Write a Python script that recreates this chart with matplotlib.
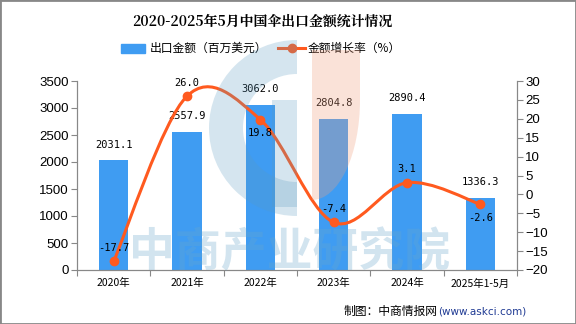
import numpy as np
import matplotlib
matplotlib.use('Agg')
import matplotlib.pyplot as plt
from matplotlib.path import Path
from matplotlib.patches import PathPatch, Wedge, Rectangle
from matplotlib.transforms import IdentityTransform, Affine2D

plt.rcParams['font.family'] = ['Noto Sans CJK SC', 'DejaVu Sans']

# ============================
# Data
# ============================
categories = ['2020年', '2021年', '2022年', '2023年', '2024年', '2025年1-5月']
export_value = [2031.1, 2557.9, 3062.0, 2804.8, 2890.4, 1336.3]   # 百万美元
growth_rate = [-17.7, 26.0, 19.8, -7.4, 3.1, -2.6]                # %
rate_label_above = [True, True, False, True, True, False]

bar_color = '#3f9cf2'
line_color = '#ff5a1f'
W, H = 576, 324


def fx(px):
    return px / W


def fy(py):
    return 1 - py / H


fig = plt.figure(figsize=(5.76, 3.24), dpi=100)
fig.patch.set_facecolor('white')
ax = fig.add_axes([fx(77), fy(270), fx(517) - fx(77), fy(81) - fy(270)])
ax2 = ax.twinx()

x = np.arange(len(categories))

# ============================
# Bars
# ============================
ax.bar(x, export_value, width=0.4, color=bar_color, zorder=2)
for xi, v in zip(x, export_value):
    ax.text(xi, v + 200, f'{v:.1f}', ha='center', va='bottom', fontsize=7.5,
            family='DejaVu Sans Mono', zorder=5)

ax.set_xlim(-0.5, len(categories) - 0.5)
ax.set_ylim(0, 3500)
ax.set_yticks(np.arange(0, 3501, 500))
ax.set_xticks(np.arange(-0.5, len(categories), 1.0))
ax.set_xticklabels([])
ax.set_xticks(x, minor=True)
ax.set_xticklabels(categories, minor=True, fontsize=7.5)
ax.tick_params(axis='x', which='minor', length=0, pad=6)
ax.tick_params(axis='x', which='major', length=4, color='#888888')
ax.tick_params(axis='y', length=4, color='#888888', labelsize=9.5, pad=2)
for lab in ax.get_yticklabels():
    lab.set_family('Liberation Sans')

# ============================
# Growth-rate line (smooth cardinal spline through the points)
# ============================
ax2.set_ylim(-20, 30)
ax2.set_yticks(np.arange(-20, 31, 5))
ax2.tick_params(axis='y', length=4, color='#888888', labelsize=9.5, pad=2)
for lab in ax2.get_yticklabels():
    lab.set_family('Liberation Sans')

pts = np.column_stack([x, growth_rate]).astype(float)
tension = 0.5
verts = [tuple(pts[0])]
codes = [Path.MOVETO]
for i in range(len(pts) - 1):
    p0 = pts[max(i - 1, 0)]
    p1 = pts[i]
    p2 = pts[i + 1]
    p3 = pts[min(i + 2, len(pts) - 1)]
    c1 = p1 + (p2 - p0) * tension / 3
    c2 = p2 - (p3 - p1) * tension / 3
    verts += [tuple(c1), tuple(c2), tuple(p2)]
    codes += [Path.CURVE4] * 3
ax2.add_patch(PathPatch(Path(verts, codes), fill=False, edgecolor=line_color,
                        lw=2.2, zorder=4, capstyle='round'))
ax2.plot(x, growth_rate, 'o', color=line_color, ms=6, zorder=5)

for xi, v, above in zip(x, growth_rate, rate_label_above):
    if above:
        ax2.text(xi, v + 2.2, f'{v:.1f}', ha='center', va='bottom', fontsize=7.5,
                 family='DejaVu Sans Mono', zorder=6)
    else:
        ax2.text(xi, v - 2.2, f'{v:.1f}', ha='center', va='top', fontsize=7.5,
                 family='DejaVu Sans Mono', zorder=6)

for a in (ax, ax2):
    a.spines['top'].set_visible(False)
    for s in ('left', 'right', 'bottom'):
        a.spines[s].set_color('#888888')
    a.set_facecolor('none')
ax.set_zorder(1)
ax2.set_zorder(2)

# ============================
# Watermark logo and text (pixel coordinates, origin bottom-left)
# ============================
px = IdentityTransform()
logo_blue = dict(color='#5a9ac0', alpha=0.25, lw=0, zorder=10)
logo_orange = dict(color='#f0a080', alpha=0.3, lw=0, zorder=10)
fig.patches.append(Wedge((297, H - 128), 88, 90, 270, width=34,
                         transform=px, **logo_blue))
fig.patches.append(Rectangle((272, H - 207), 25, 107, transform=px, **logo_blue))
fig.patches.append(Rectangle((312, H - 100), 48, 50, transform=px, **logo_orange))
# quarter ellipse for the lower part of the orange mark
fig.patches.append(Wedge((0, 0), 1, -90, 0,
                         transform=Affine2D().scale(48, 100).translate(312, H - 100),
                         **logo_orange))
fig.text(fx(290), fy(253), '中商产业研究院', ha='center', va='center',
         fontsize=33, fontweight='bold', color='#6aa6cc', alpha=0.3, zorder=10)

# ============================
# Title, legend, source
# ============================
fig.text(fx(262), fy(22), '2020-2025年5月中国伞出口金额统计情况', ha='center',
         va='center', fontsize=10, fontweight='bold',
         family=['Noto Serif CJK SC', 'Noto Sans CJK SC'])

fig.patches.append(Rectangle((fx(121), fy(53)), fx(24), fy(44) - fy(53),
                             transform=fig.transFigure, color=bar_color))
fig.text(fx(150), fy(48), '出口金额（百万美元）', va='center', fontsize=8.5)
fig.lines.append(plt.Line2D([fx(278), fx(305)], [fy(48), fy(48)],
                            transform=fig.transFigure, color=line_color, lw=2.2))
fig.lines.append(plt.Line2D([fx(291.5)], [fy(48)], transform=fig.transFigure,
                            color=line_color, marker='o', ms=6))
fig.text(fx(308), fy(48), '金额增长率（%）', va='center', fontsize=8.5)

fig.text(fx(438), fy(311), '制图：中商情报网', ha='right', va='center', fontsize=8.5)
fig.text(fx(438), fy(311), '(www.askci.com)', ha='left', va='center',
         fontsize=7.5, color='#1f3a93', family='Liberation Sans Narrow')

# figure border
fig.patches.append(Rectangle((0, 0), 1, 1, transform=fig.transFigure,
                             fill=False, edgecolor='#888888', lw=2))

fig.savefig('out.png', dpi=100)
